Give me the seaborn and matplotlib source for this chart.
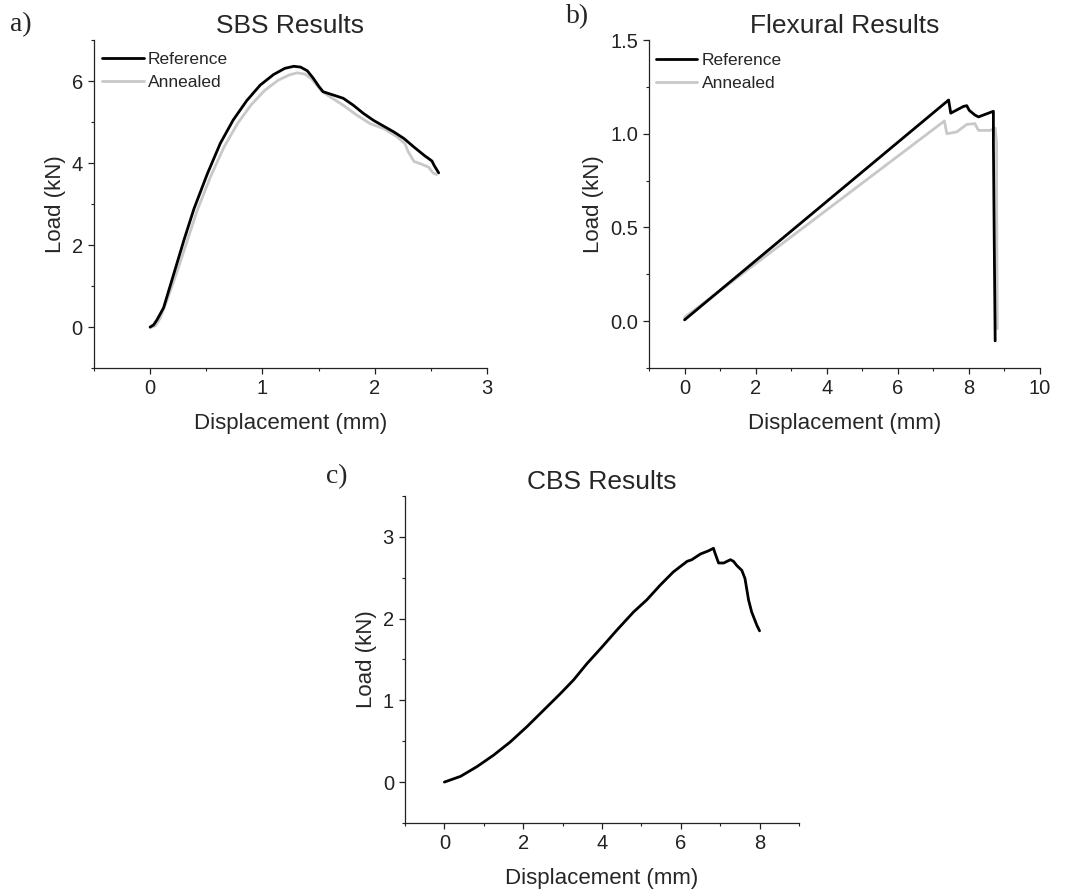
import matplotlib
matplotlib.use("Agg")
import matplotlib.pyplot as plt
from matplotlib.ticker import MultipleLocator
import pandas as pd
import seaborn as sns

# ---- SBS test (short beam shear) ----
sbs_ref_x = [0.00, 0.03, 0.06, 0.12, 0.21, 0.30, 0.39, 0.51, 0.625, 0.74, 0.86, 0.98,
             1.10, 1.20, 1.28, 1.34, 1.40, 1.45, 1.50, 1.54, 1.63, 1.72, 1.81, 1.90,
             1.99, 2.08, 2.17, 2.26, 2.35, 2.44, 2.51, 2.53, 2.57]
sbs_ref_y = [0.00, 0.05, 0.17, 0.47, 1.29, 2.11, 2.88, 3.74, 4.48, 5.05, 5.52, 5.90,
             6.16, 6.31, 6.36, 6.34, 6.25, 6.08, 5.88, 5.74, 5.66, 5.58, 5.41, 5.21,
             5.04, 4.90, 4.76, 4.60, 4.39, 4.19, 4.05, 3.94, 3.76]
sbs_ann_x = [0.00, 0.05, 0.09, 0.15, 0.24, 0.33, 0.42, 0.54, 0.66, 0.78, 0.90, 1.02,
             1.14, 1.24, 1.31, 1.38, 1.44, 1.49, 1.53, 1.60, 1.72, 1.84, 1.96, 2.08,
             2.20, 2.27, 2.30, 2.35, 2.41, 2.48, 2.52, 2.55]
sbs_ann_y = [-0.02, 0.04, 0.22, 0.65, 1.35, 2.10, 2.85, 3.68, 4.40, 4.97, 5.42, 5.77,
             6.02, 6.15, 6.20, 6.17, 6.05, 5.88, 5.75, 5.62, 5.41, 5.17, 4.96, 4.84,
             4.64, 4.47, 4.27, 4.04, 3.98, 3.90, 3.76, 3.72]

# ---- Flexural test ----
flex_ref_x = [0.00, 7.43, 7.49, 7.85, 7.94, 8.01, 8.17, 8.27, 8.69, 8.69, 8.72, 8.74]
flex_ref_y = [0.007, 1.18, 1.11, 1.146, 1.15, 1.125, 1.10, 1.09, 1.12, 0.95, 0.30, -0.105]
flex_ann_x = [0.00, 7.31, 7.38, 7.66, 7.94, 8.17, 8.27, 8.60, 8.74, 8.78, 8.78, 8.80]
flex_ann_y = [0.02, 1.068, 1.00, 1.01, 1.05, 1.054, 1.018, 1.018, 1.03, 0.95, 0.70, -0.04]

# ---- CBS test ----
cbs_x = [0.00, 0.41, 0.83, 1.25, 1.67, 2.10, 2.52, 2.94, 3.28, 3.62, 3.96, 4.38, 4.80,
         5.14, 5.48, 5.81, 6.16, 6.28, 6.50, 6.71, 6.83, 6.87, 6.96, 7.09, 7.26, 7.34,
         7.42, 7.55, 7.63, 7.72, 7.80, 7.93, 8.00]
cbs_y = [0.00, 0.07, 0.19, 0.33, 0.49, 0.68, 0.88, 1.08, 1.25, 1.45, 1.63, 1.86, 2.08,
         2.23, 2.41, 2.57, 2.70, 2.72, 2.79, 2.83, 2.86, 2.80, 2.68, 2.68, 2.72, 2.70,
         2.65, 2.59, 2.49, 2.23, 2.08, 1.92, 1.85]

series_names = ["Reference", "Annealed"]
series_colors = {"Reference": "#000000", "Annealed": "#c8c8c8"}

sns.set_style("ticks")
plt.rcParams["font.family"] = ["Liberation Sans", "DejaVu Sans"]
plt.rcParams.update({
    "axes.linewidth": 0.9,
    "xtick.major.width": 0.9, "ytick.major.width": 0.9,
    "xtick.minor.width": 0.8, "ytick.minor.width": 0.8,
    "xtick.major.size": 4, "ytick.major.size": 4,
    "xtick.minor.size": 2.3, "ytick.minor.size": 2.3,
    "xtick.direction": "out", "ytick.direction": "out",
    "xtick.color": "#222222", "ytick.color": "#222222",
    "axes.edgecolor": "#222222",
})

TITLE_FS = 19
LABEL_FS = 16
TICK_FS = 14.5
LEG_FS = 12.5


def frame(x, y, name):
    return pd.DataFrame({"x": x, "y": y, "series": name, "order": range(len(x))})


def style_axes(ax, title, xlim, ylim, xmaj, xmin, ymaj, ymin, yfmt=None):
    ax.set_xlim(*xlim)
    ax.set_ylim(*ylim)
    ax.xaxis.set_major_locator(MultipleLocator(xmaj))
    ax.xaxis.set_minor_locator(MultipleLocator(xmin))
    ax.yaxis.set_major_locator(MultipleLocator(ymaj))
    ax.yaxis.set_minor_locator(MultipleLocator(ymin))
    if yfmt:
        ax.yaxis.set_major_formatter(yfmt)
    sns.despine(ax=ax)
    ax.tick_params(labelsize=TICK_FS, pad=4)
    ax.set_title(title, fontsize=TITLE_FS, pad=5)
    ax.set_xlabel("Displacement (mm)", fontsize=LABEL_FS, labelpad=11)
    ax.set_ylabel("Load (kN)", fontsize=LABEL_FS, labelpad=4)


def add_legend(ax, anchor):
    leg = ax.legend(loc="upper left", bbox_to_anchor=anchor, frameon=False,
                    fontsize=LEG_FS, handlelength=2.4, handletextpad=0.25,
                    labelspacing=0.42, borderaxespad=0, borderpad=0)
    for line in leg.get_lines():
        line.set_linewidth(2.0)


fig = plt.figure(figsize=(10.74, 8.92), dpi=100)

# a) SBS
ax_a = fig.add_axes([0.0875, 0.5874, 0.3659, 0.3677])
df_a = pd.concat([frame(sbs_ref_x, sbs_ref_y, "Reference"),
                  frame(sbs_ann_x, sbs_ann_y, "Annealed")])
sns.lineplot(data=df_a, x="x", y="y", hue="series", hue_order=series_names[::-1],
             palette=series_colors, sort=False, estimator=None, units="series",
             linewidth=2.0, ax=ax_a, legend=False)
for name in series_names:
    ax_a.plot([], [], color=series_colors[name], label=name)
style_axes(ax_a, "SBS Results", (-0.5, 3), (-1, 7), 1, 0.5, 2, 1)
add_legend(ax_a, (0.02, 0.963))

# b) Flexural
ax_b = fig.add_axes([0.6043, 0.5874, 0.364, 0.3677])
df_b = pd.concat([frame(flex_ref_x, flex_ref_y, "Reference"),
                  frame(flex_ann_x, flex_ann_y, "Annealed")])
sns.lineplot(data=df_b, x="x", y="y", hue="series", hue_order=series_names[::-1],
             palette=series_colors, sort=False, estimator=None, units="series",
             linewidth=2.0, ax=ax_b, legend=False)
for name in series_names:
    ax_b.plot([], [], color=series_colors[name], label=name)
style_axes(ax_b, "Flexural Results", (-1, 10), (-0.25, 1.5), 2, 1, 0.5, 0.25,
           yfmt="{x:.1f}")
add_legend(ax_b, (0.017, 0.96))

# c) CBS
ax_c = fig.add_axes([0.3771, 0.0774, 0.3668, 0.3666])
df_c = frame(cbs_x, cbs_y, "Reference")
sns.lineplot(data=df_c, x="x", y="y", color="#000000", sort=False, estimator=None,
             linewidth=2.0, ax=ax_c)
style_axes(ax_c, "CBS Results", (-1, 9), (-0.5, 3.5), 2, 1, 1, 0.5)

# panel letters
for label, (px, py) in {"a)": (10, 25), "b)": (566, 17), "c)": (326, 477)}.items():
    fig.text(px / 1074, 1 - py / 892, label, fontsize=20, family="Liberation Serif",
             ha="left", va="center")

fig.savefig("out.png", dpi=100)
